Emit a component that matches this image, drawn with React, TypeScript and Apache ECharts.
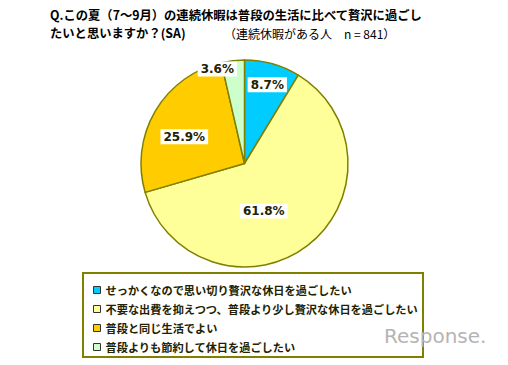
import React, { useEffect, useRef } from "react";
import * as echarts from "echarts";

const categories = [
  "せっかくなので思い切り贅沢な休日を過ごしたい",
  "不要な出費を抑えつつ、普段より少し贅沢な休日を過ごしたい",
  "普段と同じ生活でよい",
  "普段よりも節約して休日を過ごしたい",
];
const values = [8.7, 61.8, 25.9, 3.6];
const colors = ["#00CCFF", "#FFFF99", "#FFCC00", "#CCFFCC"];
const labelShift = [
  [8, -26],
  [-14, 4],
  [-13, 1],
  [-21, -40],
];
const titleLine1 = "Q.この夏（7～9月）の連続休暇は普段の生活に比べて贅沢に過ごし";
const titleLine2 = "たいと思いますか？(SA)";
const subtitle = "（連続休暇がある人　n = 841）";

export default function App() {
  const ref = useRef<HTMLDivElement>(null);
  useEffect(() => {
    if (!ref.current) return;
    const chart = echarts.init(ref.current, null, { renderer: "svg" });
    const jp = "'Noto Sans CJK JP', sans-serif";
    chart.setOption({
      animation: false,
      backgroundColor: "#ffffff",
      color: colors,
      graphic: [
        {
          type: "text",
          x: 50,
          y: 6,
          style: {
            text: titleLine1 + "\n" + titleLine2,
            font: `bold 12.3px ${jp}`,
            lineHeight: 18,
            fill: "#000",
            verticalAlign: "top",
          },
        },
        {
          type: "text",
          x: 224,
          y: 33,
          style: {
            text: subtitle,
            font: `12px ${jp}`,
            fill: "#000",
            verticalAlign: "middle",
          },
        },
        {
          type: "rect",
          shape: { x: 83, y: 273, width: 340, height: 84 },
          style: { fill: "none", stroke: "#808000", lineWidth: 2 },
          z: 0,
        },
        {
          type: "text",
          x: 384,
          y: 336,
          style: {
            text: "Response.",
            font: "20px 'DejaVu Sans', sans-serif",
            fill: "#b4b4b4",
            verticalAlign: "middle",
          },
          z: 10,
        },
      ],
      legend: {
        orient: "vertical",
        left: 88,
        top: 278,
        icon: "rect",
        itemWidth: 7,
        itemHeight: 7,
        itemGap: 5,
        itemStyle: { borderColor: "#333", borderWidth: 1 },
        textStyle: {
          fontFamily: jp,
          fontWeight: "bold",
          fontSize: 11.2,
          lineHeight: 14,
          color: "#222200",
        },
        data: categories,
      },
      series: [
        {
          type: "pie",
          center: [244.5, 163.5],
          radius: 103.5,
          startAngle: 90,
          clockwise: true,
          itemStyle: { borderColor: "#808000", borderWidth: 1.5 },
          label: {
            position: "inside",
            formatter: (p: any) => `${p.value.toFixed(1)}%`,
            fontFamily: "'DejaVu Sans', Verdana, sans-serif",
            fontWeight: "bold",
            fontSize: 12,
            color: "#222200",
            backgroundColor: "#ffffff",
            padding: [2, 3, 1, 3],
          },
          labelLine: { show: false },
          labelLayout: (p: any) => ({
            dx: labelShift[p.dataIndex][0],
            dy: labelShift[p.dataIndex][1],
          }),
          emphasis: { disabled: true },
          data: categories.map((c, i) => ({ name: c, value: values[i] })),
        },
      ],
    });
    return () => chart.dispose();
  }, []);
  return (
    <div
      ref={ref}
      style={{ position: "fixed", left: 0, top: 0, width: 508, height: 365 }}
    />
  );
}
